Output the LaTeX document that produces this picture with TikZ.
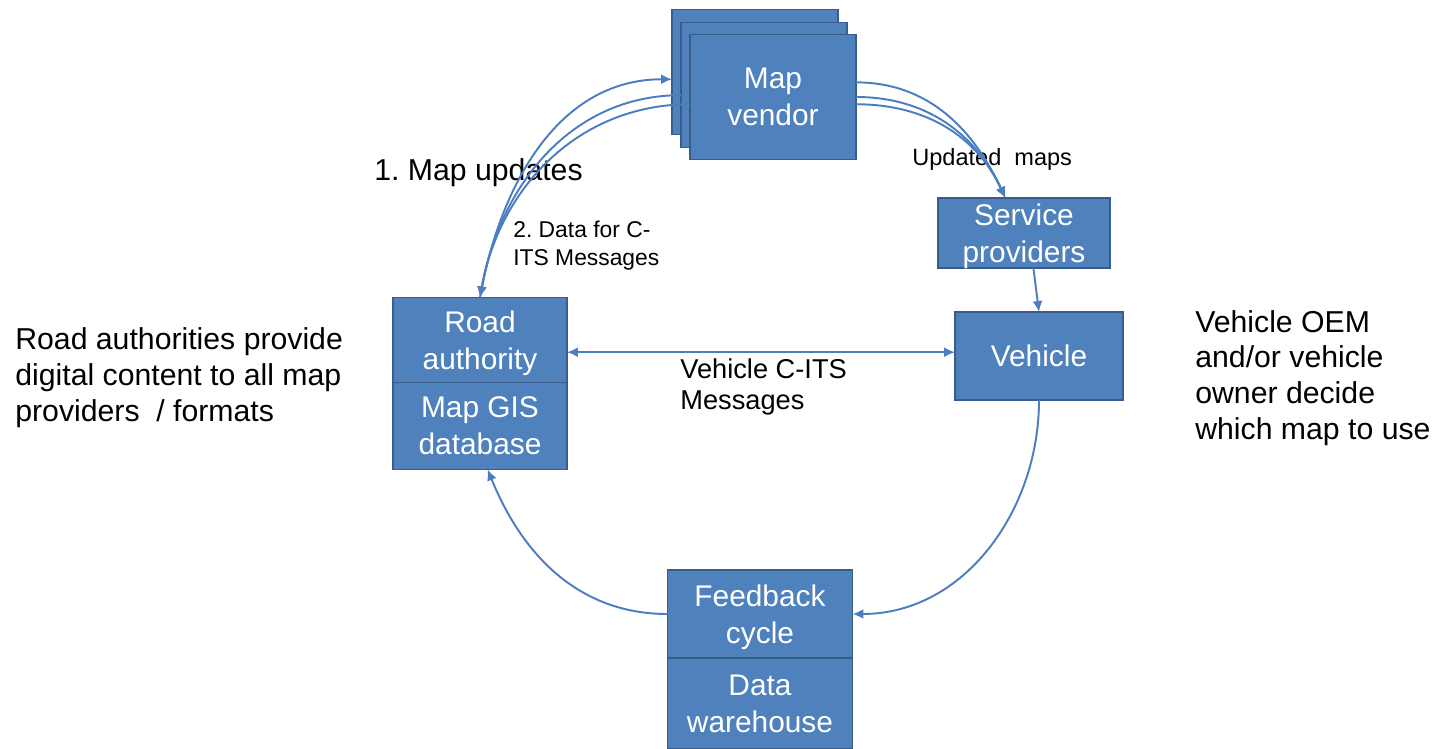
\documentclass[tikz,border=0pt]{standalone}
\usepackage{fontspec}
\setmainfont{Liberation Sans}
\usetikzlibrary{arrows.meta,positioning}

\definecolor{boxblue}{RGB}{79,129,189}
\definecolor{boxline}{RGB}{56,93,138}
\definecolor{arrowblue}{RGB}{74,126,193}

\frenchspacing

\begin{document}
\begin{tikzpicture}[x=0.02cm, y=-0.02cm, >={Latex[length=2.2mm,width=2mm]}, every node/.style={font=\fontsize{17.2}{20.4}\selectfont}]
% styles
\tikzstyle{box}=[rectangle,draw=boxline,line width=1.1pt,fill=boxblue,text=white,align=center,inner sep=0pt,outer sep=0pt,font=\fontsize{17}{21}\selectfont,text depth=-2.8pt]
\tikzstyle{vendor}=[box,minimum width=3.32cm,minimum height=2.5cm]
\tikzstyle{note}=[align=left,inner sep=0pt,anchor=west]
\tikzstyle{flow}=[draw=arrowblue,line width=1.1pt]

\useasboundingbox (0,0) rectangle (1439,749);

% map vendors (stacked)
\node[vendor] (mv1) at (755,72) {};
\node[vendor] (mv2) at (764,85) {};
\node[vendor] (mv3) at (773,97) {Map\\vendor};

% service providers and vehicle
\node[box,minimum width=3.44cm,minimum height=1.4cm] (sp) at (1024,233) {Service\\providers};
\node[box,minimum width=3.36cm,minimum height=1.76cm,text depth=0pt] (veh) at (1039,356) {Vehicle};

% road authority
\node[box,minimum width=3.48cm,minimum height=1.7cm] (ra) at (480,340) {Road\\authority};
\node[box,minimum width=3.48cm,minimum height=1.74cm,below=0pt of ra] (gis) {Map GIS\\database};

% feedback
\node[box,minimum width=3.7cm,minimum height=1.76cm] (fb) at (760,614) {Feedback\\cycle};
\node[box,minimum width=3.7cm,minimum height=1.82cm,below=0pt of fb,text depth=-1pt] (dw) {Data\\warehouse};

% labels
\node[note] (upd) at (374,173) {1. Map updates};
\node[note,font=\fontsize{13}{16}\selectfont] (cits) at (513,246) {2. Data for C-\\ITS Messages};
\node[note,font=\fontsize{13.4}{16}\selectfont] (umaps) at (912,159) {Updated\ \ maps};
\node[note,font=\fontsize{15.5}{18}\selectfont] (vmsg) at (680,387) {Vehicle C-ITS\\Messages};
\node[note] (ranote) at (15,378) {Road authorities provide\\digital content to all map\\providers\ \ / formats};
\node[note] (oem) at (1195,378) {Vehicle OEM\\and/or vehicle\\owner decide\\which map to use};

% road authority <-> map vendor
\draw[flow,->] (ra.north) to[out=80,in=180] (mv1.185);
\draw[flow,->] (mv2.187) to[out=180,in=80] (ra.north);
\draw[flow,->] (mv3.185) to[out=180,in=80] (ra.north);

% updated maps
\foreach \a in {10,0,-5}
  \draw[flow,->] (mv3.\a) to[out=0,in=115] (sp.118);

\draw[flow,->] (sp.-75) -- (veh.north);
\draw[flow,<->] (ra.-8) -- (ra.-8 -| veh.west);

% feedback loop
\draw[flow,->] (veh.south) to[out=-90,in=0] (fb.east);
\draw[flow,->] (fb.west) to[out=180,in=-68] (gis.-80);

\end{tikzpicture}
\end{document}
